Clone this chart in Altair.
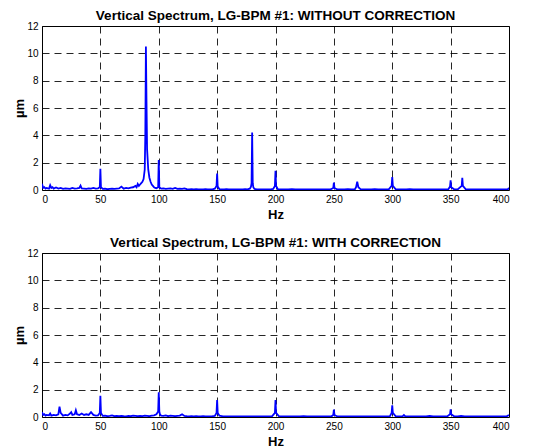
import altair as alt
import pandas as pd

# ---------- data: (Hz, µm) pairs ----------
top_points = [
    (0, 0.45), (1, 0.15), (2, 0.2), (3, 0.1), (4, 0.15), (5, 0.12), (6, 0.1), (7, 0.35), (8, 0.15), (9, 0.2),
    (10, 0.1), (12, 0.18), (14, 0.1), (16, 0.15), (18, 0.08), (20, 0.12), (22, 0.1), (24, 0.08), (26, 0.15),
    (28, 0.1), (30, 0.12), (32, 0.15), (33, 0.32), (34, 0.12), (36, 0.1), (38, 0.08), (40, 0.12), (42, 0.1),
    (44, 0.15), (46, 0.1), (48, 0.12), (49.5, 0.2), (50, 1.55), (50.5, 0.2), (52, 0.08), (54, 0.1), (56, 0.06),
    (58, 0.08), (60, 0.1), (62, 0.08), (64, 0.1), (66, 0.12), (68, 0.25), (70, 0.1), (72, 0.15), (74, 0.12),
    (76, 0.18), (78, 0.2), (80, 0.3), (81, 0.2), (82, 0.45), (83, 0.3), (84, 0.4), (85, 0.5), (86, 0.6),
    (87, 0.8), (88, 1.5), (88.5, 4.0), (89, 10.5), (89.5, 6.5), (90, 3.0), (91, 1.5), (92, 0.9), (93, 0.6),
    (94, 0.4), (95, 0.3), (96, 0.2), (97, 0.15), (98, 0.12), (99.5, 0.2), (100, 2.2), (100.5, 0.2), (102, 0.1),
    (104, 0.12), (106, 0.08), (108, 0.1), (110, 0.12), (112, 0.08), (114, 0.15), (116, 0.08), (118, 0.1),
    (120, 0.08), (122, 0.12), (124, 0.06), (126, 0.05), (128, 0.06), (130, 0.05), (132, 0.06), (134, 0.05),
    (136, 0.04), (138, 0.05), (140, 0.06), (142, 0.05), (144, 0.04), (146, 0.05), (148, 0.1), (149.5, 0.3),
    (150, 1.2), (150.5, 0.25), (152, 0.06), (154, 0.05), (156, 0.04), (158, 0.06), (160, 0.05), (162, 0.04),
    (164, 0.05), (166, 0.04), (168, 0.05), (170, 0.04), (172, 0.05), (174, 0.06), (176, 0.05), (178, 0.1),
    (179, 0.25), (179.5, 0.5), (180, 4.2), (180.5, 0.5), (181, 0.2), (182, 0.08), (184, 0.05), (186, 0.04),
    (188, 0.05), (190, 0.04), (192, 0.05), (194, 0.04), (196, 0.05), (198, 0.08), (199.5, 0.3), (200, 1.4),
    (200.5, 0.3), (202, 0.06), (205, 0.04), (208, 0.05), (211, 0.04), (214, 0.06), (217, 0.04), (220, 0.05),
    (223, 0.04), (226, 0.05), (229, 0.04), (232, 0.05), (235, 0.04), (238, 0.05), (241, 0.04), (244, 0.05),
    (247, 0.04), (249.5, 0.15), (250, 0.55), (250.5, 0.15), (253, 0.04), (256, 0.05), (259, 0.04), (262, 0.06),
    (265, 0.04), (268, 0.05), (269, 0.2), (270, 0.6), (271, 0.2), (273, 0.05), (276, 0.04), (279, 0.05),
    (282, 0.04), (285, 0.06), (288, 0.04), (291, 0.05), (294, 0.04), (297, 0.05), (299.5, 0.3), (300, 0.95),
    (300.5, 0.3), (303, 0.05), (306, 0.04), (309, 0.05), (312, 0.04), (315, 0.06), (318, 0.04), (321, 0.05),
    (324, 0.04), (327, 0.05), (330, 0.04), (333, 0.05), (336, 0.04), (339, 0.05), (342, 0.04), (345, 0.05),
    (348, 0.06), (349.5, 0.25), (350, 0.7), (350.5, 0.2), (353, 0.05), (356, 0.04), (359.5, 0.3), (360, 0.9),
    (360.5, 0.3), (363, 0.05), (366, 0.04), (369, 0.05), (372, 0.04), (375, 0.05), (378, 0.04), (381, 0.05),
    (384, 0.04), (387, 0.05), (390, 0.04), (393, 0.05), (396, 0.04), (399, 0.05), (400, 0.15),
]

bottom_points = [
    (0, 0.35), (1, 0.15), (2, 0.2), (3, 0.1), (4, 0.15), (6, 0.12), (7, 0.25), (8, 0.1), (10, 0.15), (12, 0.12),
    (14, 0.2), (15, 0.75), (16, 0.3), (18, 0.1), (20, 0.15), (22, 0.12), (24, 0.25), (25, 0.35), (26, 0.15),
    (28, 0.2), (29, 0.5), (30, 0.2), (32, 0.15), (34, 0.25), (36, 0.15), (38, 0.2), (40, 0.15), (42, 0.35),
    (44, 0.15), (46, 0.1), (48, 0.12), (49.5, 0.3), (50, 1.55), (50.5, 0.3), (52, 0.08), (54, 0.1), (56, 0.06),
    (58, 0.08), (60, 0.12), (62, 0.06), (64, 0.08), (66, 0.06), (68, 0.08), (70, 0.06), (72, 0.05), (74, 0.08),
    (76, 0.06), (78, 0.1), (80, 0.08), (82, 0.06), (84, 0.08), (86, 0.06), (88, 0.1), (90, 0.08), (92, 0.06),
    (94, 0.1), (96, 0.12), (98, 0.2), (99.5, 0.4), (100, 1.8), (100.5, 0.4), (101, 0.2), (102, 0.1), (104, 0.08),
    (106, 0.12), (108, 0.06), (110, 0.1), (112, 0.08), (114, 0.06), (116, 0.08), (118, 0.1), (120, 0.2),
    (122, 0.08), (124, 0.06), (126, 0.05), (128, 0.06), (130, 0.05), (132, 0.06), (134, 0.05), (136, 0.04),
    (138, 0.06), (140, 0.05), (142, 0.04), (144, 0.05), (146, 0.06), (148, 0.08), (149.5, 0.3), (150, 1.25),
    (150.5, 0.3), (152, 0.1), (155, 0.05), (158, 0.04), (161, 0.05), (164, 0.04), (167, 0.05), (170, 0.04),
    (173, 0.05), (176, 0.04), (179, 0.05), (182, 0.04), (185, 0.05), (188, 0.04), (191, 0.05), (194, 0.04),
    (197, 0.05), (199.5, 0.3), (200, 1.25), (200.5, 0.3), (203, 0.05), (206, 0.04), (209, 0.05), (212, 0.04),
    (215, 0.05), (218, 0.04), (221, 0.05), (224, 0.06), (227, 0.04), (230, 0.05), (233, 0.04), (236, 0.05),
    (239, 0.04), (242, 0.05), (245, 0.04), (248, 0.05), (249.5, 0.15), (250, 0.55), (250.5, 0.15), (253, 0.04),
    (256, 0.05), (259, 0.04), (262, 0.05), (265, 0.04), (268, 0.05), (271, 0.04), (274, 0.05), (277, 0.04),
    (280, 0.05), (283, 0.04), (286, 0.05), (289, 0.04), (292, 0.05), (295, 0.04), (298, 0.06), (299.5, 0.3),
    (300, 0.85), (300.5, 0.3), (303, 0.05), (306, 0.04), (309, 0.06), (310, 0.15), (311, 0.06), (314, 0.05),
    (317, 0.04), (320, 0.05), (323, 0.04), (326, 0.05), (329, 0.04), (332, 0.08), (335, 0.04), (338, 0.05),
    (341, 0.04), (344, 0.05), (347, 0.04), (349.5, 0.2), (350, 0.55), (350.5, 0.2), (353, 0.05), (356, 0.04),
    (359, 0.08), (362, 0.05), (365, 0.04), (368, 0.05), (371, 0.04), (374, 0.05), (377, 0.04), (380, 0.05),
    (383, 0.04), (386, 0.05), (389, 0.04), (392, 0.05), (395, 0.04), (398, 0.05), (400, 0.15),
]

x_ticks = [0, 50, 100, 150, 200, 250, 300, 350, 400]
y_ticks = [0, 2, 4, 6, 8, 10, 12]
titles = ["Vertical Spectrum, LG-BPM #1: WITHOUT CORRECTION",
          "Vertical Spectrum, LG-BPM #1: WITH CORRECTION"]

FONT = "Liberation Sans"


def panel(points, title):
    df = pd.DataFrame(points, columns=["Hz", "um"])
    return alt.Chart(df, title=alt.TitleParams(title, fontSize=13.5, font=FONT, fontWeight="bold",
                                               color="black", offset=-1)).mark_line(
        color="#0000FF", strokeWidth=1.8, clip=True
    ).encode(
        x=alt.X("Hz:Q", scale=alt.Scale(domain=[0, 400], nice=False),
                axis=alt.Axis(values=x_ticks, title="Hz", format="d")),
        y=alt.Y("um:Q", scale=alt.Scale(domain=[0, 12], nice=False),
                axis=alt.Axis(values=y_ticks, title="µm", format="d")),
    ).properties(width=467, height=164)


chart = alt.vconcat(panel(top_points, titles[0]), panel(bottom_points, titles[1]),
                    spacing=63, bounds="flush").properties(
    padding={"left": 5, "top": 0, "right": 5, "bottom": 0},
    background="white",
).configure_view(stroke="black", strokeWidth=1).configure_axis(
    labelFont=FONT, labelFontSize=10, labelColor="black",
    titleFont=FONT, titleFontSize=13, titleFontWeight="bold", titleColor="black",
    domain=False, ticks=False, labelPadding=4,
    grid=True, gridColor="black", gridDash=[7, 5], gridWidth=1, gridOpacity=0.85,
).configure_axisX(titlePadding=4).configure_axisY(titlePadding=0)

chart.save("out.html", embed_options={"renderer": "svg", "actions": False})
